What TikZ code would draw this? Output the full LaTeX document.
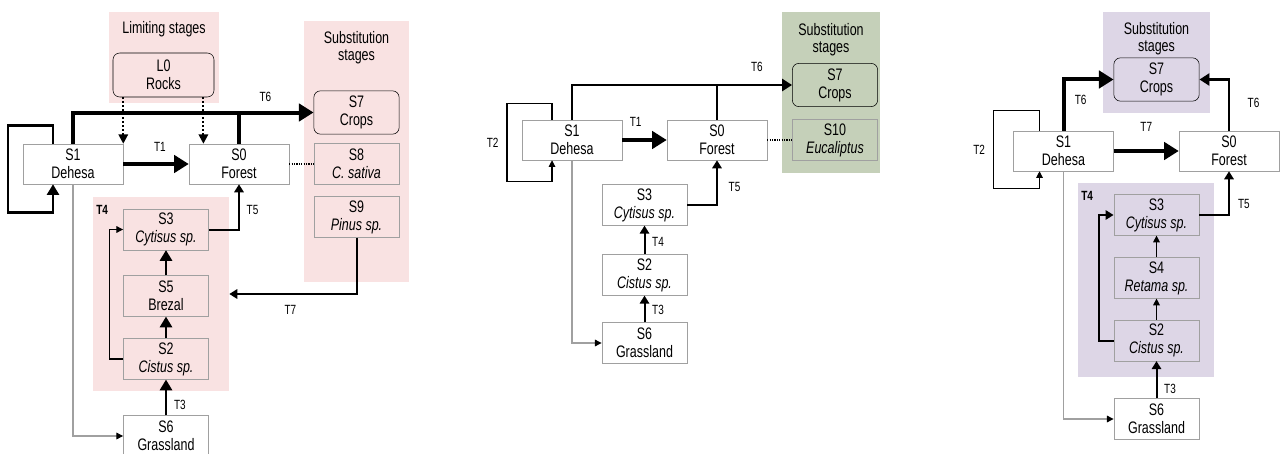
\documentclass[tikz,border=0pt]{standalone}
\usepackage{fontspec}
\setmainfont{Liberation Sans}[FakeStretch=0.75]
\usetikzlibrary{arrows.meta,positioning}
\definecolor{pinkbg}{RGB}{249,226,226}
\definecolor{greenbg}{RGB}{197,208,185}
\definecolor{purplebg}{RGB}{221,214,230}
\definecolor{boxline}{RGB}{160,160,160}

\begin{document}
\begin{tikzpicture}[x=0.75pt, y=-0.75pt,
    stagebox/.style={draw=boxline, fill=white, minimum width=75pt, minimum height=30pt, align=center, inner sep=0pt, font=\fontsize{12.5}{13.5}\selectfont},
    smallbox/.style={stagebox, minimum width=64pt, minimum height=30.5pt},
    innerbox/.style={smallbox, fill=none},
    subbox/.style={innerbox, draw=black, rounded corners=5pt, minimum height=32.5pt},
    zone/.style={fill=#1, inner sep=0pt},
    heading/.style={align=center, inner sep=0pt, font=\fontsize{12.5}{12.5}\selectfont},
    lbl/.style={inner sep=0pt, font=\fontsize{10}{10}\selectfont},
    bigarr/.style={line width=3pt, -{Triangle[length=11pt,width=13pt]}},
    bigline/.style={line width=3pt},
    heavyarr/.style={line width=2.2pt, -{Triangle[length=8pt,width=9pt]}},
    medarr/.style={line width=2pt, -{Triangle[length=7.5pt,width=9pt]}},
    medline/.style={line width=2pt},
    midarr/.style={line width=1.5pt, -{Triangle[length=6pt,width=7pt]}},
    thinarr/.style={line width=0.8pt, -{Triangle[length=5pt,width=5pt]}},
    greyarr/.style={draw=boxline, line width=0.8pt, -{Triangle[length=5pt,width=5pt,color=black]}},
    dotarr/.style={line width=1.5pt, dash pattern=on 1.5pt off 1.5pt, -{Triangle[length=7pt,width=7pt]}},
    dotline/.style={line width=0.8pt, densely dotted}]

    \useasboundingbox (0,0) rectangle (1280,453);

    \node[zone=pinkbg, minimum width=82.5pt, minimum height=68.25pt] (lLim) at (164,57.5) {};
    \node[zone=pinkbg, minimum width=78.75pt, minimum height=195.75pt] (lSub) at (356.5,151.5) {};
    \node[zone=pinkbg, minimum width=102pt, minimum height=145.5pt] (lT4) at (161,294) {};
    \node[heading] (lLimT) at (164,29) {Limiting stages};
    \node[heading] (lSubT) at (356.5,48) {Substitution\\stages};
    \node[lbl, font=\fontsize{10}{10}\selectfont\bfseries, below right=6pt and 2.5pt of lT4.north west] (lT4T) {T4};

    \node[subbox, minimum width=75.75pt, minimum height=33pt] (lL0) at (163.5,75) {L0\\Rocks};
    \node[stagebox] (lS1) at (73,164) {S1\\Dehesa};
    \node[stagebox] (lS0) at (239,164) {S0\\Forest};
    \node[subbox] (lS7) at (356.5,112.5) {S7\\Crops};
    \node[innerbox] (lS8) at (356.5,164) {S8\\\textit{C. sativa}};
    \node[innerbox] (lS9) at (356.5,217) {S9\\\textit{Pinus sp.}};
    \node[innerbox] (lS3) at (166,229.5) {S3\\\textit{Cytisus sp.}};
    \node[innerbox] (lS5) at (166,296) {S5\\Brezal};
    \node[innerbox] (lS2) at (166,359) {S2\\\textit{Cistus sp.}};
    \node[smallbox] (lS6) at (166,436) {S6\\Grassland};
    \coordinate (lRk) at ([xshift=11pt]lS0.north west);

    \draw[dotarr] (lL0.south -| lS1.north east) -- (lS1.north east);
    \draw[dotarr] (lRk |- lL0.south) -- (lRk);
    \draw[heavyarr] ([xshift=-15pt]lS1.north) -- ++(0,-18) -- ++(-45,0) -- ++(0,87) -- ++(45,0) -- ([xshift=-15pt]lS1.south);
    \draw[bigarr] (lS1.north) |- node[lbl, above=7pt, pos=0.9] (lT6) {T6} (lS7.west);
    \draw[bigline] (lS0.north) -- (lS0.north |- lS7.west);
    \draw[bigarr] (lS1) -- node[lbl, above=8pt, pos=0.56] (lT1) {T1} (lS0);
    \draw[dotline] (lS0.east) -- (lS8.west);
    \draw[midarr] (lS3.east) -| node[lbl, right=5pt, pos=0.72] (lT5) {T5} (lS0.south);
    \draw[heavyarr] (lS2) -- (lS5);
    \draw[heavyarr] (lS5) -- (lS3);
    \draw[heavyarr] (lS6) -- node[lbl, right=5pt, pos=0.3] (lT3) {T3} (lS2);
    \draw[thinarr] (lS2.west) -- ++(-14,0) |- (lS3.west);
    \draw[midarr] (lS9.south) |- node[lbl, below=8pt, pos=0.76] (lT7) {T7} (lT4.east);
    \draw[greyarr] (lS1.south) |- (lS6.west);

    \node[zone=greenbg, minimum width=73.5pt, minimum height=120.75pt] (mSub) at (831,92.5) {};
    \node[heading] (mSubT) at (831,40) {Substitution\\stages};
    \node[stagebox] (mS1) at (572,140) {S1\\Dehesa};
    \node[stagebox] (mS0) at (717,140) {S0\\Forest};
    \node[subbox] (mS7) at (835,85) {S7\\Crops};
    \node[innerbox] (mS10) at (835,140) {S10\\\textit{Eucaliptus}};
    \node[smallbox] (mS3) at (644.5,205) {S3\\\textit{Cytisus sp.}};
    \node[smallbox] (mS2) at (644.5,275) {S2\\\textit{Cistus sp.}};
    \node[smallbox] (mS6) at (644.5,343) {S6\\Grassland};

    \draw[thinarr] ([xshift=-15pt]mS1.north) -- ++(0,-16) -- ++(-45,0) -- node[lbl, left=6pt] (mT2) {T2} ++(0,78) -- ++(45,0) -- ([xshift=-15pt]mS1.south);
    \draw[medarr] (mS1.north) |- node[lbl, above=9pt, pos=0.92] (mT6) {T6} (mS7.west);
    \draw[medline] (mS0.north) -- (mS0.north |- mS7.west);
    \draw[bigarr] (mS1) -- node[lbl, above=9pt, pos=0.3] (mT1) {T1} (mS0);
    \draw[dotline] (mS0.east) -- (mS10.west);
    \draw[midarr] (mS3.east) -| node[lbl, right=8pt, pos=0.7] (mT5) {T5} (mS0.south);
    \draw[midarr] (mS2) -- node[lbl, right=5pt, pos=0.45] (mT4) {T4} (mS3);
    \draw[midarr] (mS6) -- node[lbl, right=5pt, pos=0.45] (mT3) {T3} (mS2);
    \draw[greyarr] (mS1.south) |- (mS6.west);

    \node[zone=purplebg, minimum width=80.25pt, minimum height=75.75pt] (rSub) at (1156.5,62.5) {};
    \node[zone=purplebg, minimum width=102pt, minimum height=145.5pt] (rT4) at (1146,280) {};
    \node[heading] (rSubT) at (1156.5,38.5) {Substitution\\stages};
    \node[lbl, font=\fontsize{10}{10}\selectfont\bfseries, below right=6pt and 2.5pt of rT4.north west] (rT4T) {T4};
    \node[stagebox] (rS1) at (1063.5,151) {S1\\Dehesa};
    \node[stagebox] (rS0) at (1229,151) {S0\\Forest};
    \node[subbox] (rS7) at (1156.5,79.5) {S7\\Crops};
    \node[innerbox] (rS3) at (1156.5,215) {S3\\\textit{Cytisus sp.}};
    \node[innerbox] (rS4) at (1156.5,278) {S4\\\textit{Retama sp.}};
    \node[innerbox] (rS2) at (1156.5,340.5) {S2\\\textit{Cistus sp.}};
    \node[smallbox] (rS6) at (1156.5,419) {S6\\Grassland};

    \draw[thinarr] ([xshift=-18pt]rS1.north) -- ++(0,-20) -- ++(-46,0) -- node[lbl, left=6pt] (rT2) {T2} ++(0,78) -- ++(46,0) -- ([xshift=-18pt]rS1.south);
    \draw[bigarr] (rS1.north) |- node[lbl, right=7pt, pos=0.3] (rT6a) {T6} (rS7.west);
    \draw[medarr] (rS0.north) |- node[lbl, right=13pt, pos=0.27] (rT6b) {T6} (rS7.east);
    \draw[bigarr] (rS1) -- node[lbl, above=13pt] (rT7) {T7} (rS0);
    \draw[midarr] (rS3.east) -| node[lbl, right=6pt, pos=0.63] (rT5) {T5} (rS0.south);
    \draw[thinarr] (rS2) -- (rS4);
    \draw[thinarr] (rS4) -- (rS3);
    \draw[midarr] (rS2.west) -- ++(-15,0) |- (rS3.west);
    \draw[midarr] (rS6) -- node[lbl, right=5pt, pos=0.25] (rT3) {T3} (rS2);
    \draw[greyarr] (rS1.south) |- (rS6.west);
\end{tikzpicture}
\end{document}
